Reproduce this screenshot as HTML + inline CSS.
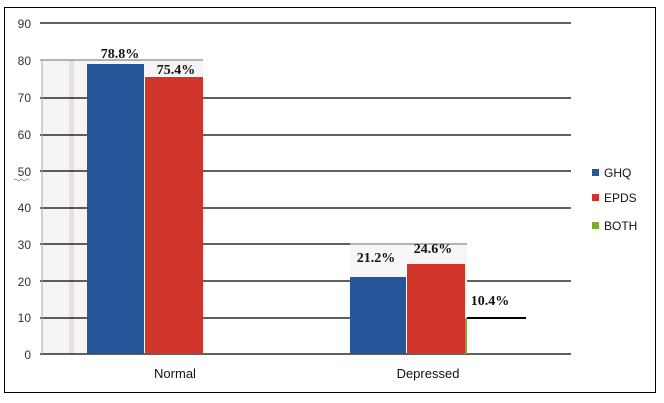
<!DOCTYPE html>
<html><head><style>body{margin:0;background:#fff}svg{display:block}</style></head><body>
<svg width="664" height="403" xmlns="http://www.w3.org/2000/svg">
<rect x="0" y="0" width="664" height="403" fill="#fff"/>
<rect x="4.5" y="7.5" width="651" height="385" fill="none" stroke="#000" stroke-width="1"/>
<rect x="42" y="60" width="161" height="294" fill="#f6f4f4"/>
<rect x="69" y="60" width="5" height="294" fill="#e2e2e2"/>
<rect x="350" y="244" width="117" height="110" fill="#f7f5f5"/>
<g stroke="#000" stroke-width="1.3">
<line x1="40" y1="23" x2="571" y2="23"/>
<line x1="40" y1="98" x2="87" y2="98"/><line x1="203" y1="98" x2="571" y2="98"/>
<line x1="40" y1="135" x2="87" y2="135"/><line x1="203" y1="135" x2="571" y2="135"/>
<line x1="40" y1="171" x2="87" y2="171"/><line x1="203" y1="171" x2="571" y2="171"/>
<line x1="40" y1="208" x2="87" y2="208"/><line x1="203" y1="208" x2="571" y2="208"/>
<line x1="40" y1="244" x2="87" y2="244"/><line x1="203" y1="244" x2="350" y2="244"/>
<line x1="40" y1="281" x2="87" y2="281"/><line x1="203" y1="281" x2="350" y2="281"/><line x1="467" y1="281" x2="571" y2="281"/>
<line x1="40" y1="318" x2="87" y2="318"/><line x1="203" y1="318" x2="350" y2="318"/><line x1="467" y1="318" x2="526" y2="318" stroke-width="2"/>
<line x1="40" y1="354" x2="571" y2="354"/>
</g>
<line x1="40" y1="60" x2="203" y2="60" stroke="#888" stroke-width="1.3"/>
<line x1="350" y1="244" x2="467" y2="244" stroke="#888" stroke-width="1.3"/>
<line x1="42" y1="60" x2="42" y2="354" stroke="#aaa"/>
<rect x="87" y="64" width="57" height="290" fill="#27579a"/>
<rect x="145" y="77" width="58" height="277" fill="#cf3529"/>
<rect x="350" y="277" width="56" height="77" fill="#27579a"/>
<rect x="407" y="264" width="58" height="90" fill="#cf3529"/>
<rect x="465" y="318" width="2" height="36" fill="#7aaa34"/>
<g font-family="Liberation Sans, sans-serif" font-size="12" fill="#333" text-anchor="end">
<text x="31" y="28">90</text><text x="31" y="65">80</text><text x="31" y="102">70</text>
<text x="31" y="139">60</text><text x="31" y="176">50</text><text x="31" y="212">40</text>
<text x="31" y="249">30</text><text x="31" y="286">20</text><text x="31" y="322">10</text>
<text x="31" y="359">0</text>
</g>
<path d="M14 180 q2 -2 3 0 t3 0 t3 0 t3 0 t3 0" stroke="#5a5" fill="none" stroke-width="0.8"/>
<g font-family="Liberation Serif, serif" font-size="14" font-weight="bold" fill="#111" text-anchor="middle">
<text x="120" y="58">78.8%</text><text x="176" y="74">75.4%</text>
<text x="376" y="262">21.2%</text><text x="433" y="253">24.6%</text><text x="490" y="305">10.4%</text>
</g>
<g font-family="Liberation Sans, sans-serif" font-size="13" fill="#111" text-anchor="middle">
<text x="175" y="378">Normal</text><text x="428" y="378">Depressed</text>
</g>
<rect x="592" y="169" width="7" height="7" fill="#27579a"/>
<rect x="592" y="194" width="7" height="7" fill="#cf3529"/>
<rect x="592" y="222" width="7" height="7" fill="#7aaa34"/>
<g font-family="Liberation Sans, sans-serif" font-size="12" fill="#111">
<text x="604" y="177">GHQ</text><text x="604" y="202">EPDS</text><text x="604" y="230">BOTH</text>
</g>
</svg>
</body></html>
